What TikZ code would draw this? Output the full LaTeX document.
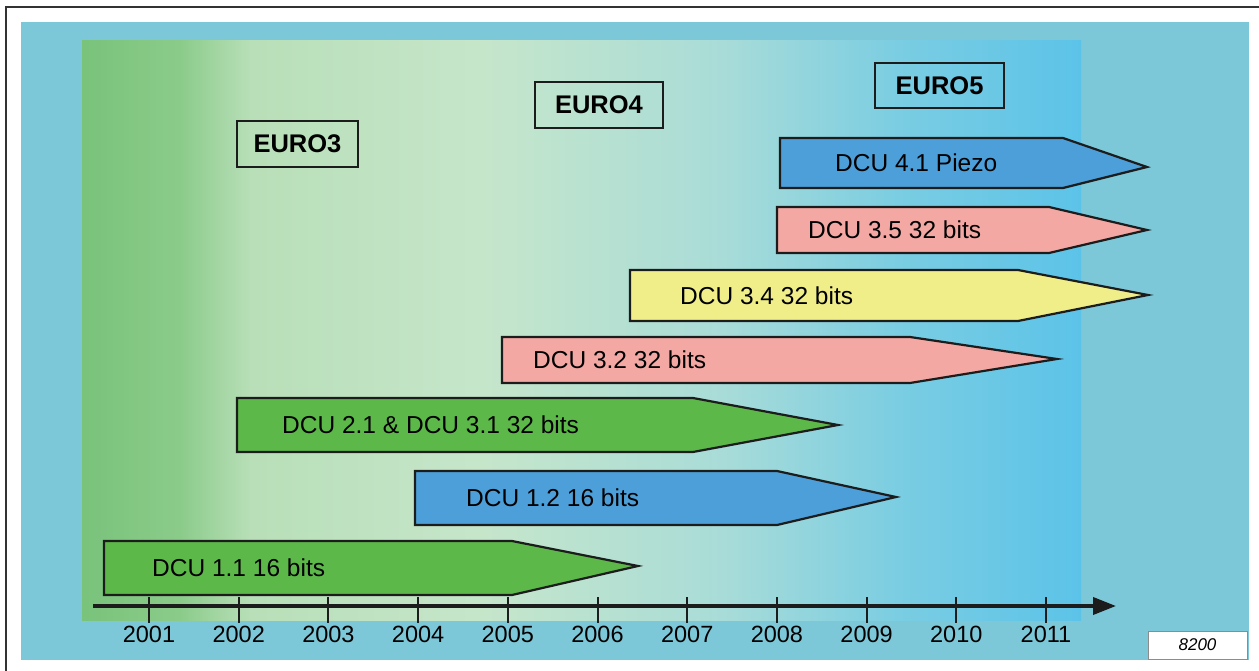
\documentclass[tikz,border=0pt]{standalone}
\usepackage{fontspec}
\setmainfont{Liberation Sans}
\usetikzlibrary{arrows.meta}
\definecolor{outerbg}{HTML}{7CC8D8}
\definecolor{ga}{HTML}{79C37B}
\definecolor{gb}{HTML}{8BCB8A}
\definecolor{gc}{HTML}{B8DFB8}
\definecolor{gd}{HTML}{C6E6CA}
\definecolor{ge}{HTML}{A9DCD8}
\definecolor{gf}{HTML}{7ACDE2}
\definecolor{gg}{HTML}{5CC3E8}
\definecolor{bargreen}{HTML}{5DB84A}
\definecolor{barblue}{HTML}{4C9FD8}
\definecolor{barpink}{HTML}{F4A8A4}
\definecolor{baryellow}{HTML}{F0EE88}
\definecolor{edge}{HTML}{1C1C1C}
\tikzset{
  barline/.style={draw=edge, line width=2.2pt, line join=miter},
  bartext/.style={anchor=west, inner sep=0pt, font=\fontsize{24.5}{28}\selectfont},
  eurobox/.style={draw=edge, line width=2.4pt, inner sep=0pt, font=\bfseries\fontsize{25.5}{30}\selectfont},
  yeartext/.style={inner sep=0pt, font=\fontsize{23.5}{26}\selectfont},
  tickline/.style={draw=edge, line width=2pt},
}
\begin{document}
\begin{tikzpicture}[x=1pt,y=-1pt]
\useasboundingbox (0,0) rectangle (1259,671);
\fill[white] (0,0) rectangle (1259,671);
% frame
\draw[line width=1.6pt, black!80] (6,671) -- (6,7) -- (1259,7);
% backgrounds
\fill[outerbg] (21,22) rectangle (1249,660);
\shade[left color=ga, right color=gb] (82,41) rectangle (180.5,620);
\shade[left color=gb, right color=gc] (180,41) rectangle (250.5,620);
\shade[left color=gc, right color=gd] (250,41) rectangle (480.5,620);
\shade[left color=gd, right color=ge] (480,41) rectangle (720.5,620);
\shade[left color=ge, right color=gf] (720,41) rectangle (900.5,620);
\shade[left color=gf, right color=gg] (900,41) rectangle (1081,620);
% euro boxes
\node[eurobox, minimum width=121pt, minimum height=46pt] (euro3) at (297.5,144) {EURO3};
\node[eurobox, minimum width=128pt, minimum height=46pt] (euro4) at (599,105) {EURO4};
\node[eurobox, minimum width=129pt, minimum height=45pt] (euro5) at (939.5,85.5) {EURO5};
% bars
\draw[barline, fill=barblue] (780,138) -- (1063,138) -- (1147,167) -- (1063,188) -- (780,188) -- cycle;
\node[bartext] (dcu41) at (835,163) {DCU 4.1 Piezo};
\draw[barline, fill=barpink] (777,207) -- (1049,207) -- (1147,230) -- (1049,253) -- (777,253) -- cycle;
\node[bartext] (dcu35) at (808,230) {DCU 3.5 32 bits};
\draw[barline, fill=baryellow] (630,270) -- (1018,270) -- (1148,295) -- (1018,321) -- (630,321) -- cycle;
\node[bartext] (dcu34) at (680,295.5) {DCU 3.4 32 bits};
\draw[barline, fill=barpink] (502,337) -- (910,337) -- (1057,359) -- (910,383) -- (502,383) -- cycle;
\node[bartext] (dcu32) at (533,360) {DCU 3.2 32 bits};
\draw[barline, fill=bargreen] (237,398) -- (693,398) -- (838,425) -- (693,452) -- (237,452) -- cycle;
\node[bartext] (dcu21) at (282,425) {DCU 2.1 \& DCU 3.1 32 bits};
\draw[barline, fill=barblue] (415,471) -- (777,471) -- (896,497) -- (777,525) -- (415,525) -- cycle;
\node[bartext] (dcu12) at (466,498) {DCU 1.2 16 bits};
\draw[barline, fill=bargreen] (104,541) -- (512,541) -- (638,566) -- (512,595) -- (104,595) -- cycle;
\node[bartext] (dcu11) at (152,568) {DCU 1.1 16 bits};
% axis
\coordinate (axstart) at (93,606);
\coordinate (axend) at (1116,606);
\foreach \i [evaluate=\i as \xx using 149+(\i-1)*89.7] in {1,...,11} {
  \draw[tickline] (\xx,597) -- (\xx,623);
}
\draw[edge, line width=3.8pt, -{Triangle[length=23pt,width=17pt]}] (axstart) -- (axend);
\foreach \i [evaluate=\i as \xx using 149+(\i-1)*89.7, evaluate=\i as \yr using int(2000+\i)] in {1,...,11} {
  \node[yeartext] (yr\i) at (\xx,634.5) {\yr};
}
% figure number
\node[draw=black!45, line width=1pt, fill=white, minimum width=99pt, minimum height=28pt, inner sep=0pt, font=\itshape\fontsize{17}{19}\selectfont] (fignum) at (1197.5,645) {8200};
\end{tikzpicture}
\end{document}
